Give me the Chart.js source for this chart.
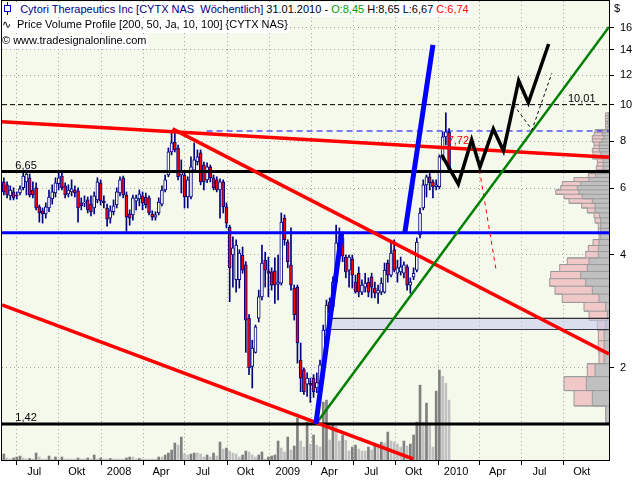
<!DOCTYPE html>
<html>
<head>
<meta charset="utf-8">
<script src="https://cdn.jsdelivr.net/npm/chart.js@4.4.1/dist/chart.umd.min.js"></script>
<style>
  body { margin: 0; background: #fff; }
  #wrap { position: relative; width: 640px; height: 480px; overflow: hidden; }
  canvas { position: absolute; left: 0; top: 0; }
  .hdr { position: absolute; left: 2px; height: 15px; line-height: 15px; padding-right: 2px; background: #fff;
         font: 11px "Liberation Sans", Arial, sans-serif; color: #000; white-space: pre; }
  .hdr svg { vertical-align: -2px; }
  .ico { display: inline-block; width: 15px; font-family: "DejaVu Sans"; font-size: 11px; }
  #dollar { position: absolute; left: 614px; top: 2px; font: 11px "Liberation Sans", Arial, sans-serif; }
</style>
</head>
<body>
<div id="wrap">
  <canvas id="chart" width="640" height="480"></canvas>
  <div class="hdr" id="h1" style="top:2px"></div>
  <div class="hdr" id="h2" style="top:18px"></div>
  <div class="hdr" id="h3" style="top:34px"></div>
  <div id="dollar">$</div>
</div>
<script>
// weekly bars, first week starts here
const weekStart = '2007-06-04';
const headerDate = '31.01.2010';

const open = [
  6.24,6.13,5.73,5.87,5.76,5.83,6.02,6.24,6.40,5.94,
  6.02,5.36,5.23,5.13,5.32,5.62,5.83,6.17,6.47,6.09,
  5.80,5.87,5.94,5.91,5.49,5.49,5.59,5.45,5.32,5.59,
  6.21,5.55,5.32,5.00,5.20,5.42,5.83,6.40,5.76,5.13,
  5.10,5.55,5.62,5.73,5.69,5.66,5.13,5.03,5.16,5.45,
  5.94,6.51,7.50,7.96,7.68,6.51,6.51,5.69,5.69,6.71,
  7.05,7.45,6.92,6.32,6.84,6.40,6.32,5.94,6.24,5.36,
  4.73,3.99,3.43,3.43,3.99,3.76,2.71,2.02,2.20,2.71,
  3.09,3.87,3.62,3.60,3.62,3.34,3.36,5.00,4.32,3.76,
  3.26,3.28,2.10,1.98,1.81,1.82,1.88,1.77,1.81,1.92,
  2.52,2.99,2.90,3.38,4.30,4.43,3.94,3.64,3.89,3.38,
  3.57,3.18,3.28,3.38,3.49,3.26,3.16,3.18,3.18,3.80,
  3.53,4.12,3.57,3.60,3.57,3.71,3.32,3.49,3.64,4.51,
  5.32,6.13,6.44,6.24,6.06,6.06,7.27,8.22,8.45
];
const high = [
  6.40,6.24,6.09,6.02,5.87,6.09,6.59,6.71,6.55,6.24,
  6.21,5.42,5.32,5.49,5.94,6.13,6.40,6.59,6.63,6.21,
  6.13,6.32,6.09,6.02,5.66,5.73,5.69,5.73,5.87,6.40,
  6.32,5.73,5.45,5.39,5.59,6.02,6.44,6.47,5.87,5.26,
  5.76,5.76,5.94,5.87,5.83,5.73,5.23,5.20,5.66,6.09,
  6.51,7.68,8.42,8.48,7.82,7.14,6.63,6.44,7.27,7.92,
  7.59,7.59,7.05,7.01,6.92,6.51,6.44,6.36,6.32,5.49,
  4.79,4.46,4.38,4.12,4.19,3.83,2.77,2.37,2.60,3.22,
  4.24,4.06,3.94,3.69,3.92,3.99,5.16,5.10,4.38,4.71,
  3.32,3.32,2.33,2.00,1.94,1.88,1.92,1.94,2.10,2.60,
  3.03,3.07,3.49,4.79,4.71,4.59,3.99,3.99,3.99,3.53,
  3.71,3.43,3.57,3.47,3.57,3.38,3.32,3.47,3.80,3.87,
  4.30,4.38,3.87,3.94,3.83,3.76,3.47,3.69,4.43,5.32,
  6.32,6.51,6.59,6.32,6.32,7.36,8.48,9.52,8.65
];
const low = [
  5.76,5.66,5.59,5.59,5.62,5.76,5.94,5.76,5.69,5.66,
  5.26,4.88,4.85,5.00,5.20,5.45,5.69,5.94,5.94,5.66,
  5.69,5.73,5.69,4.88,5.26,5.36,5.16,5.07,5.13,5.49,
  5.42,5.32,4.76,4.85,5.10,5.32,5.73,5.66,4.59,4.79,
  4.94,5.26,5.39,5.26,5.32,5.10,4.94,4.94,5.10,5.39,
  5.87,6.44,7.36,7.50,6.32,5.83,5.32,5.32,5.62,6.63,
  6.92,6.13,5.94,6.21,6.24,5.94,5.87,5.00,5.16,4.71,
  3.00,3.28,3.18,3.26,3.57,2.20,1.92,1.77,2.19,2.65,
  3.03,3.28,3.09,3.22,2.97,3.03,3.32,4.24,3.69,3.22,
  2.68,2.06,1.73,1.70,1.68,1.62,1.67,1.72,1.75,1.88,
  2.45,2.71,2.85,3.32,4.12,3.83,3.47,3.28,3.26,3.16,
  3.09,3.13,3.18,3.09,3.07,3.07,2.97,3.13,3.16,3.38,
  3.49,3.60,3.38,3.53,3.47,3.22,3.16,3.43,3.60,4.43,
  5.26,5.69,5.94,5.66,5.94,5.98,7.14,7.82,6.67
];
const close = [
  5.87,5.76,5.94,5.66,5.73,5.98,6.47,6.55,5.76,5.76,
  5.32,5.16,5.13,5.36,5.69,5.87,6.21,6.40,6.02,5.76,
  5.94,5.98,5.83,5.32,5.39,5.52,5.26,5.20,5.73,6.24,
  5.55,5.49,4.97,5.23,5.39,5.87,6.32,5.76,5.03,5.00,
  5.66,5.66,5.80,5.49,5.42,5.16,5.03,5.10,5.52,5.94,
  6.32,7.50,7.92,7.59,6.44,6.63,5.69,6.32,6.84,7.14,
  7.27,6.24,6.24,6.84,6.40,6.02,5.94,6.24,5.36,4.85,
  3.69,4.17,4.24,4.04,3.64,2.68,2.00,2.26,2.57,3.09,
  3.80,3.64,3.57,3.32,3.32,3.38,4.88,4.38,3.83,3.32,
  2.77,2.33,1.88,1.73,1.88,1.80,1.73,1.83,2.04,2.52,
  2.94,2.80,3.38,4.30,4.49,3.97,3.60,3.94,3.53,3.18,
  3.18,3.32,3.36,3.18,3.28,3.16,3.22,3.36,3.64,3.53,
  4.04,3.64,3.69,3.71,3.76,3.32,3.38,3.57,4.32,5.16,
  6.13,6.44,6.21,6.06,6.13,7.27,8.22,8.48,6.74
];
// weekly volume (100k shares)
const volume = [
  6,2,1,2,3,4,2,1,1.5,1,
  7,3,1,1,4,1,3,1,3,1,
  1,1,1,2,1,1,2,1,5,1,
  2,1,1,1.5,1,1,1,1,2,3,
  3,1,1.5,1,1,1,1,1,3,3,
  5,7,10,17,15,23,6,5,6,7,
  7,6,3,5,3,7,4,18,11,12,
  9,7,6,3,5,9,8,5,3,5,
  8,1,3,4,5,19,12,8,23,10,
  14,42,19,13,38,16,25,15,13,58,
  60,20,35,34,19,25,20,9,13,15,
  11,9,9,13,10,14,12,18,17,28,
  19,18,16,13,19,14,16,25,38,75,
  38,57,37,13,69,90,84,77,60
];

// price volume profile, bins from the bottom up
const profileFrom = 1.43;
const profileStep = 0.1556;
const profileTotal = [
  3.3,35,45,21.7,10,10.7,10.7,11.7,20,25,
  46.7,54,59.3,58.3,49.3,41.7,23.3,20.7,16,10,
  10.7,10.7,14,15,21.7,27.3,40,45,53.3,48.3,
  46.7,35,20.7,12.7,12.7,11.7,11.7,16.7,16,16.7,
  15,15,16.7,16.7,15,14,4,3.3,3.3,3.3,
  3.3,3.3
];
const profileDown = [
  3.3,16.7,22.7,14,4.3,5,5,3.3,1.7,3.3,
  10,16.7,23.3,28.3,21.7,20,10.7,10.7,10,8.3,
  8.3,8.3,8.3,9.3,14,14,16.7,26.7,30,31.7,
  28.3,20,13.3,5,6,5.7,6,7.3,8.3,10,
  10,9.3,6.7,5,6.7,5,1.3,0.7,1.7,0.7,
  0.7,0.7
];

const xStart = '2007-05-31';
const xEnd = '2011-01-07';
const priceMin = 1.139;
const priceMax = 18.87;
const priceTicks = [2, 4, 6, 8, 10, 12, 14, 16];
const quarterDates = ['2007-07-01','2007-10-01','2008-01-01','2008-04-01','2008-07-01','2008-10-01',
  '2009-01-01','2009-04-01','2009-07-01','2009-10-01','2010-01-01','2010-04-01','2010-07-01','2010-10-01'];
const quarterLabels = ['Jul','Okt','2008','Apr','Jul','Okt','2009','Apr','Jul','Okt','2010','Apr','Jul','Okt'];

// drawn levels and trend lines: [date, price]
const level665 = 6.65;
const level142 = 1.42;
const levelBlue = 4.57;
const level1001 = 10.01;
const levelBlueDash = 8.52;
const blueDashFrom = '2008-08-17';
const boxStart = '2009-05-02';
const boxLow = 2.53;
const boxHigh = 2.71;
const trendRedTop = [[xStart, 9.02], [xEnd, 7.26]];
const trendRedDown = [['2008-06-04', 8.63], [xEnd, 2.18]];
const trendRedLow = [[xStart, 2.94], ['2009-11-08', 1.146]];
const trendBlue1 = [['2009-04-11', 1.42], ['2009-06-06', 4.57]];
const trendBlue2 = [['2009-10-21', 4.57], ['2009-12-21', 14.42]];
const trendGreen = [['2009-04-11', 1.42], [xEnd, 16.1]];
const zigzag = [['2010-01-09', 7.36], ['2010-02-14', 6.16], ['2010-03-15', 8.07], ['2010-04-02', 6.83],
  ['2010-05-01', 8.63], ['2010-05-23', 7.55], ['2010-06-25', 11.59], ['2010-07-16', 10.13], ['2010-08-29', 14.51]];
const zigzagDash = [['2010-06-14', 10.0], ['2010-07-24', 8.58], ['2010-09-05', 12.13]];
const redDash = [['2010-03-29', 7.05], ['2010-05-07', 3.64]];
const levelLabels = [
  { date: '2007-06-29', value: 6.65, color: '#000' },
  { date: '2007-06-29', value: 1.42, color: '#000' },
  { date: '2010-10-10', value: 10.01, color: '#000' },
  { date: '2010-01-22', value: 7.72, color: '#ff0000' }
];


function dayOf(s) {
  const [y, m, d] = s.split('-').map(Number);
  return (Date.UTC(y, m - 1, d) - Date.UTC(2010, 0, 1)) / 864e5;
}
const fmt = v => v.toFixed(2).replace('.', ',');
const pts = arr => arr.map(([d, v]) => ({ x: dayOf(d), y: v }));

const t0 = dayOf(weekStart);
const weekDays = close.map((c, i) => t0 + 7 * i);

// step outline of the profile, each bin from its low to its high price
function profileShape(values) {
  const out = [{ x: 0, y: profileFrom }];
  values.forEach((v, k) => {
    const lo = profileFrom + k * profileStep;
    out.push({ x: v, y: lo }, { x: v, y: lo + profileStep });
  });
  out.push({ x: 0, y: profileFrom + values.length * profileStep });
  return out;
}
// border line between two neighbouring bins, broken by gaps
function profileSeparators() {
  const out = [];
  for (let k = 1; k < profileTotal.length; k++) {
    const edge = profileFrom + k * profileStep;
    out.push({ x: 0, y: edge }, { x: Math.max(profileTotal[k - 1], profileTotal[k]), y: edge }, { x: null, y: edge });
  }
  return out;
}

const NAVY = '#000080';
const FONT = '"Liberation Sans", Arial, sans-serif';

function line(data, color, width, order, dash) {
  return { type: 'line', order: order, data: pts(data), borderColor: color, borderWidth: width,
    borderDash: dash || [], pointRadius: 0, fill: false, tension: 0, clip: 0 };
}
const full = v => [[xStart, v], [xEnd, v]];

const profileBase = { type: 'line', indexAxis: 'y', xAxisID: 'xp', yAxisID: 'y', pointRadius: 0,
  tension: 0, borderColor: '#9a9a9a', borderWidth: 1, fill: { value: 0 }, clip: 0 };

const datasets = [
  { type: 'bar', order: 100, xAxisID: 'x', yAxisID: 'yv', grouped: false, barThickness: 2,
    data: volume.map((v, i) => ({ x: weekDays[i], y: v })),
    backgroundColor: volume.map((v, i) => (i === 0 || v > volume[i - 1]) ? '#808080' : '#c0c0c0') },
  Object.assign({}, profileBase, { order: 91, backgroundColor: '#f0c8c8', data: profileShape(profileTotal) }),
  Object.assign({}, profileBase, { order: 90, backgroundColor: '#c0c0c0', data: profileShape(profileDown) }),
  Object.assign({}, profileBase, { order: 89, fill: false, spanGaps: false, data: profileSeparators() }),
  Object.assign(line([[boxStart, boxHigh], [xEnd, boxHigh]], '#000', 1, 80),
    { fill: '+1', backgroundColor: 'rgba(196,202,238,0.55)' }),
  line([[boxStart, boxLow], [xEnd, boxLow]], '#000', 1, 80),
  line([[boxStart, boxLow], [boxStart, boxHigh]], '#000', 1, 80),
  { type: 'bar', order: 60, xAxisID: 'x', yAxisID: 'y', grouped: false, barThickness: 1,
    data: weekDays.map((d, i) => ({ x: d, y: [low[i], high[i]] })), backgroundColor: NAVY },
  { type: 'bar', order: 59, xAxisID: 'x', yAxisID: 'y', grouped: false, barThickness: 3,
    data: weekDays.map((d, i) => ({ x: d, y: [open[i], close[i]] })),
    backgroundColor: close.map((c, i) => c < open[i] ? '#ff0000' : '#ffffff'),
    borderColor: NAVY, borderWidth: 1, borderSkipped: false },
  line(full(level1001), '#000', 1, 52, [5, 3]),
  line([[blueDashFrom, levelBlueDash], [xEnd, levelBlueDash]], '#0000ff', 1, 52, [6, 4]),
  line(full(level665), '#000', 3, 50),
  line(full(level142), '#000', 3, 50),
  line(full(levelBlue), '#0000ff', 3, 50),
  line(trendRedTop, '#ff0000', 3.5, 40),
  line(trendRedDown, '#ff0000', 3.5, 40),
  line(trendRedLow, '#ff0000', 3.5, 40),
  line(redDash, '#ff0000', 1, 39, [4, 4]),
  line(trendGreen, '#008000', 2.5, 30),
  line(trendBlue1, '#0000ff', 5, 20),
  line(trendBlue2, '#0000ff', 5, 20),
  line(zigzagDash, '#000', 1, 12, [3, 3]),
  line(zigzag, '#000', 3.5, 10)
];

const framePlugin = {
  id: 'frame',
  beforeDraw(chart) {
    const { ctx, chartArea: a } = chart;
    ctx.save();
    ctx.fillStyle = '#fff';
    ctx.fillRect(0, 0, chart.width, chart.height);
    ctx.fillStyle = '#f5f9ec';
    ctx.fillRect(a.left, a.top, a.right - a.left, a.bottom - a.top);
    ctx.restore();
  },
  afterDatasetsDraw(chart) {
    const { ctx, scales: { x, y } } = chart;
    ctx.save();
    ctx.font = '11px ' + FONT;
    ctx.textBaseline = 'alphabetic';
    levelLabels.forEach(l => {
      ctx.fillStyle = l.color;
      ctx.fillText(fmt(l.value), x.getPixelForValue(dayOf(l.date)), y.getPixelForValue(l.value) - 3);
    });
    ctx.restore();
  },
  afterDraw(chart) {
    const { ctx, chartArea: a } = chart;
    ctx.save();
    ctx.strokeStyle = '#000';
    ctx.lineWidth = 1;
    ctx.strokeRect(a.left - 0.5, a.top - 0.5, a.right - a.left + 1, a.bottom - a.top + 1);
    ctx.restore();
  }
};

const gridOpts = { color: '#a8a8a8', lineWidth: 1, tickLength: 5, tickColor: '#000', offset: false };
const borderOpts = { color: '#000', width: 1, dash: [1, 3] };
const tickFont = { family: FONT, size: 11 };

new Chart(document.getElementById('chart'), {
  type: 'bar',
  data: { datasets: datasets },
  options: {
    responsive: false,
    animation: false,
    events: [],
    layout: { autoPadding: false, padding: { left: 2, top: 1, right: 0, bottom: 0 } },
    plugins: { legend: { display: false }, tooltip: { enabled: false } },
    scales: {
      x: {
        type: 'linear', position: 'bottom', bounds: 'data', offset: false,
        min: dayOf(xStart), max: dayOf(xEnd),
        afterBuildTicks: s => { s.ticks = quarterDates.map(d => ({ value: dayOf(d) })); },
        afterFit: s => { s.height = 20; s.paddingLeft = 0; s.paddingRight = 0; },
        grid: gridOpts, border: borderOpts,
        ticks: { autoSkip: false, maxRotation: 0, minRotation: 0, labelOffset: 18, padding: 0,
          color: '#000', font: tickFont, callback: (v, i) => quarterLabels[i] }
      },
      y: {
        type: 'logarithmic', position: 'right', bounds: 'data',
        min: priceMin, max: priceMax,
        afterBuildTicks: s => { s.ticks = priceTicks.map(v => ({ value: v })); },
        afterFit: s => { s.width = 31; s.paddingTop = 0; s.paddingBottom = 0; },
        grid: gridOpts, border: borderOpts,
        ticks: { padding: 6, color: '#000', font: tickFont, callback: v => String(v) }
      },
      yv: { type: 'linear', display: false, min: 0, max: 460 },
      xp: { type: 'linear', axis: 'x', display: false, min: 0, max: 607, reverse: true, offset: false }
    }
  },
  plugins: [framePlugin]
});

// header lines
const last = close.length - 1;
const icon = '<svg width="12" height="13"><line x1="5.5" y1="0" x2="5.5" y2="13" stroke="#0000c0"/>' +
  '<rect x="2.5" y="3.5" width="6" height="6" fill="#fff" stroke="#0000c0"/></svg>';
document.getElementById('h1').innerHTML = icon + '  <span style="color:#000080">Cytori Therapeutics Inc [CYTX NAS  Wöchentlich]</span> ' +
  headerDate + ' - <span style="color:#00a000">O:' + fmt(open[last]) + '</span> H:' + fmt(high[last]) +
  ' L:' + fmt(low[last]) + ' <span style="color:#ff0000">C:' + fmt(close[last]) + '</span>';
document.getElementById('h2').innerHTML = '<span class="ico">∿</span>Price Volume Profile [200, 50, Ja, 10, 100] {CYTX NAS}';
document.getElementById('h3').textContent = '© www.tradesignalonline.com';
</script>
</body>
</html>
